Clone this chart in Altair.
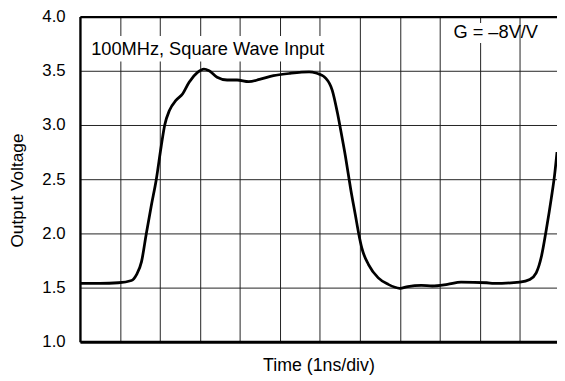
import altair as alt
import pandas as pd

# Time in divisions (1 ns/div) and output voltage
t_div = [0.0, 0.5, 0.96, 1.29, 1.415, 1.54, 1.66, 1.785, 1.91, 2.03, 2.12, 2.24,
         2.40, 2.57, 2.73, 2.94, 3.10, 3.23, 3.43, 3.68, 3.93, 4.22, 4.49, 4.84,
         5.23, 5.73, 5.90, 6.15, 6.31, 6.44, 6.52, 6.64, 6.77, 6.89, 6.97, 7.05,
         7.22, 7.46, 7.71, 8.0, 8.20, 8.54, 8.81, 9.19, 9.53, 10.17, 10.35, 11.0,
         11.25, 11.41, 11.54, 11.66, 11.79, 11.87, 11.93]
volts = [1.54, 1.54, 1.545, 1.566, 1.62, 1.74, 2.0, 2.257, 2.5, 2.80, 3.0, 3.136,
         3.227, 3.288, 3.394, 3.485, 3.515, 3.50, 3.44, 3.415, 3.415, 3.40, 3.42, 3.455,
         3.475, 3.49, 3.48, 3.43, 3.32, 3.11, 2.955, 2.71, 2.41, 2.165, 2.0, 1.864,
         1.71, 1.59, 1.53, 1.494, 1.51, 1.52, 1.515, 1.53, 1.55, 1.545, 1.539, 1.551,
         1.575, 1.636, 1.787, 2.03, 2.33, 2.54, 2.75]

y_ticks = [1.0, 1.5, 2.0, 2.5, 3.0, 3.5, 4.0]
x_grid = [1, 2, 3, 4, 5, 6, 7, 8, 9, 10, 11]
x_range = [0, 11.93]
y_range = [1.0, 4.0]

note_text = ["100MHz, Square Wave Input", "G = \u20138V/V"]
note_x = [0.28, 9.34]
note_y = [3.642, 3.803]
box_x = [0.17, 9.29]
box_x2 = [6.09, 10.7]
box_y = [3.585, 3.757]
box_y2 = [3.82, 3.94]

FONT = "Liberation Sans"

curve_df = pd.DataFrame({"t": t_div, "v": volts})
notes_df = pd.DataFrame({"label": note_text, "x": note_x, "y": note_y,
                         "bx": box_x, "bx2": box_x2, "by": box_y, "by2": box_y2})

xs = alt.Scale(domain=x_range, nice=False, zero=False)
ys = alt.Scale(domain=y_range, nice=False, zero=False)

base_axis_x = alt.Axis(values=x_grid, grid=True, gridColor="#222", gridWidth=1,
                       labels=False, ticks=False, domainColor="#000", domainWidth=3,
                       title="Time (1ns/div)", titleFont=FONT, titleFontSize=18,
                       titleFontWeight="normal", titleColor="#000", titlePadding=15)
base_axis_y = alt.Axis(values=y_ticks, grid=True, gridColor="#222", gridWidth=1,
                       format=".1f", ticks=False, labelPadding=15, labelFont=FONT,
                       labelFontSize=17, labelColor="#000", domainColor="#000",
                       domainWidth=2.4, title="Output Voltage", titleFont=FONT,
                       titleFontSize=17.5, titleFontWeight="normal", titleColor="#000",
                       titleX=-58.5, titleY=176, titleBaseline="alphabetic",
                       titleAngle=270, titleAlign="center")

curve = alt.Chart(curve_df).mark_line(color="#000", strokeWidth=2.8,
                                      interpolate="monotone").encode(
    x=alt.X("t:Q", scale=xs, axis=base_axis_x),
    y=alt.Y("v:Q", scale=ys, axis=base_axis_y),
)

top_border = alt.Chart(curve_df).mark_line(opacity=0).encode(
    x=alt.X("t:Q", scale=xs, axis=alt.Axis(orient="top", labels=False, ticks=False,
                                           grid=False, title=None, domainColor="#000",
                                           domainWidth=2.4)),
    y=alt.Y("v:Q", scale=ys, axis=None),
)

boxes = alt.Chart(notes_df).mark_rect(color="white").encode(
    x=alt.X("bx:Q", scale=xs, axis=None), x2="bx2:Q",
    y=alt.Y("by:Q", scale=ys, axis=None), y2="by2:Q",
)

notes = alt.Chart(notes_df).mark_text(align="left", baseline="alphabetic", font=FONT,
                                      fontSize=18.5, color="#000").encode(
    x=alt.X("x:Q", scale=xs, axis=None), y=alt.Y("y:Q", scale=ys, axis=None),
    text="label:N",
)

chart = alt.layer(boxes, top_border, curve, notes).resolve_axis(
    x="independent", y="independent"
).properties(
    width=484, height=330,
    autosize=alt.AutoSizeParams(type="none"),
    padding={"left": 73, "top": 6, "right": 0, "bottom": 35},
).configure_view(stroke=None).configure(background="white")

chart.save("out.html", embed_options={"renderer": "svg", "actions": False})
